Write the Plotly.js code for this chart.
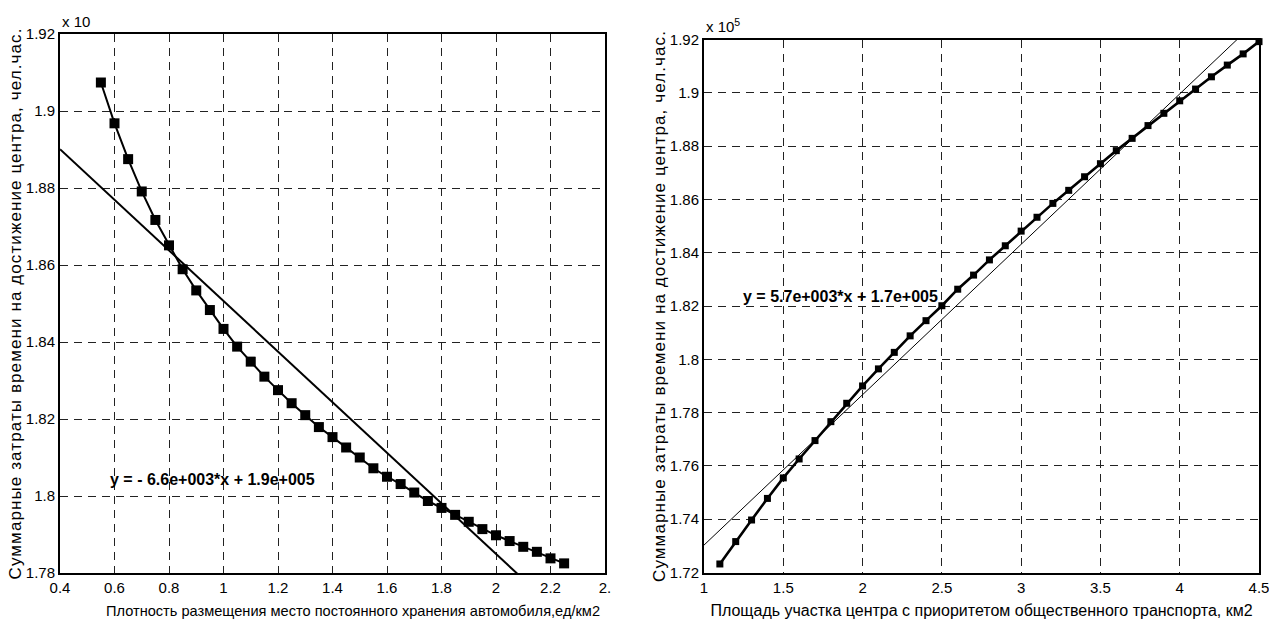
<!DOCTYPE html>
<html>
<head>
<meta charset="utf-8">
<script src="https://cdn.plot.ly/plotly-3.0.1.min.js"></script>
<style>
  html, body { margin: 0; padding: 0; background: #fff; }
  #chart { width: 1269px; height: 619px; }
  .g-ytitle text, .g-y2title text { letter-spacing: 1.1px; }
</style>
</head>
<body>
<div id="chart"></div>
<script>
// ---------- Data (values in units of 10^5 person-hours) ----------
const densityX = [0.55, 0.60, 0.65, 0.70, 0.75, 0.80, 0.85, 0.90, 0.95, 1.00,
                  1.05, 1.10, 1.15, 1.20, 1.25, 1.30, 1.35, 1.40, 1.45, 1.50,
                  1.55, 1.60, 1.65, 1.70, 1.75, 1.80, 1.85, 1.90, 1.95, 2.00,
                  2.05, 2.10, 2.15, 2.20, 2.25];
const densityY = [1.9074, 1.8968, 1.8875, 1.8791, 1.8717, 1.8651, 1.8589, 1.8534, 1.8483, 1.8434,
                  1.8388, 1.8349, 1.8310, 1.8275, 1.8241, 1.8210, 1.8179, 1.8153, 1.8126, 1.8100,
                  1.8072, 1.8050, 1.8031, 1.8009, 1.7987, 1.7969, 1.7951, 1.7933, 1.7914, 1.7898,
                  1.7883, 1.7868, 1.7855, 1.7838, 1.7825];

const areaX = [1.1, 1.2, 1.3, 1.4, 1.5, 1.6, 1.7, 1.8, 1.9, 2.0,
               2.1, 2.2, 2.3, 2.4, 2.5, 2.6, 2.7, 2.8, 2.9, 3.0,
               3.1, 3.2, 3.3, 3.4, 3.5, 3.6, 3.7, 3.8, 3.9, 4.0,
               4.1, 4.2, 4.3, 4.4, 4.5];
const areaY = [1.7232, 1.7316, 1.7397, 1.7478, 1.7555, 1.7626, 1.7695, 1.7766, 1.7835, 1.7900,
               1.7964, 1.8026, 1.8088, 1.8145, 1.8201, 1.8263, 1.8316, 1.8373, 1.8426, 1.8481,
               1.8533, 1.8585, 1.8634, 1.8685, 1.8734, 1.8783, 1.8829, 1.8877, 1.8923, 1.8970,
               1.9014, 1.9060, 1.9104, 1.9146, 1.9192];

// axis ticks
const leftXTicks = [0.4, 0.6, 0.8, 1.0, 1.2, 1.4, 1.6, 1.8, 2.0, 2.2, 2.4];
const leftXTickText = ['0.4', '0.6', '0.8', '1', '1.2', '1.4', '1.6', '1.8', '2', '2.2', '2.'];
const leftYTicks = [1.78, 1.80, 1.82, 1.84, 1.86, 1.88, 1.90, 1.92];
const leftYTickText = ['1.78', '1.8', '1.82', '1.84', '1.86', '1.88', '1.9', '1.92'];
const rightXTicks = [1, 1.5, 2, 2.5, 3, 3.5, 4, 4.5];
const rightXTickText = ['1', '1.5', '2', '2.5', '3', '3.5', '4', '4.5'];
const rightYTicks = [1.72, 1.74, 1.76, 1.78, 1.80, 1.82, 1.84, 1.86, 1.88, 1.90, 1.92];
const rightYTickText = ['1.72', '1.74', '1.76', '1.78', '1.8', '1.82', '1.84', '1.86', '1.88', '1.9', '1.92'];

const leftXRange = [0.4, 2.4], leftYRange = [1.78, 1.92];
const rightXRange = [1, 4.5], rightYRange = [1.72, 1.92];

const leftEquation = 'y = - 6.6e+003*x + 1.9e+005';
const rightEquation = 'y = 5.7e+003*x + 1.7e+005';
const leftXTitle = 'Плотность размещения место постоянного хранения автомобиля,ед/км2';
const rightXTitle = 'Площадь участка центра с приоритетом общественного транспорта, км2';
const yTitleText = 'Суммарные затраты времени на достижение центра, чел.час.';

// least-squares linear fit
function linfit(xs, ys) {
  const n = xs.length;
  let sx = 0, sy = 0, sxx = 0, sxy = 0;
  for (let i = 0; i < n; i++) { sx += xs[i]; sy += ys[i]; sxx += xs[i]*xs[i]; sxy += xs[i]*ys[i]; }
  const b = (n*sxy - sx*sy) / (n*sxx - sx*sx);
  const a = (sy - b*sx) / n;
  return {a, b};
}
const lf = linfit(densityX, densityY);
const rf = linfit(areaX, areaY);
const leftFitX = leftXRange.slice();
const leftFitY = leftFitX.map(x => lf.a + lf.b*x);
const rightFitX = rightXRange.slice();
const rightFitY = rightFitX.map(x => rf.a + rf.b*x);

const W = 1269, H = 619;
const FAM = 'Liberation Sans, Arial, sans-serif';
const tickFont = {family: FAM, size: 15, color: '#000'};
const titleFontXLeft = {family: FAM, size: 14.6, color: '#000'};
const titleFontXRight = {family: FAM, size: 16, color: '#000'};
const titleFontY = {family: FAM, size: 17, color: '#000'};
const eqFont = {family: FAM, size: 16, color: '#000', weight: 'bold'};

function axisBase() {
  return {
    showgrid: true, gridcolor: '#222', gridwidth: 1, griddash: '8px,6px',
    showline: true, mirror: true, linecolor: '#000', linewidth: 2,
    ticks: '', zeroline: false, tickfont: tickFont, tickmode: 'array', fixedrange: true,
    ticklabeloverflow: 'allow'
  };
}

const traces = [
  {x: densityX, y: densityY, xaxis: 'x', yaxis: 'y', mode: 'lines+markers',
   line: {color: '#000', width: 2}, marker: {symbol: 'square', size: 10, color: '#000'}, cliponaxis: false},
  {x: leftFitX, y: leftFitY, xaxis: 'x', yaxis: 'y', mode: 'lines',
   line: {color: '#000', width: 2}},
  {x: areaX, y: areaY, xaxis: 'x2', yaxis: 'y2', mode: 'lines+markers',
   line: {color: '#000', width: 2.6}, marker: {symbol: 'square', size: 7, color: '#000'}, cliponaxis: false},
  {x: rightFitX, y: rightFitY, xaxis: 'x2', yaxis: 'y2', mode: 'lines',
   line: {color: '#000', width: 1}}
];

const layout = {
  width: W, height: H, autosize: false,
  margin: {l: 0, r: 0, t: 0, b: 0},
  paper_bgcolor: '#fff', plot_bgcolor: '#fff',
  showlegend: false,
  xaxis: Object.assign(axisBase(), {
    domain: [60/W, 605/W], range: leftXRange, anchor: 'y',
    tickvals: leftXTicks, ticktext: leftXTickText
  }),
  yaxis: Object.assign(axisBase(), {
    domain: [1 - 573/H, 1 - 34/H], range: leftYRange, anchor: 'x',
    tickvals: leftYTicks, ticktext: leftYTickText,
    title: {text: yTitleText, font: titleFontY, standoff: 0}
  }),
  xaxis2: Object.assign(axisBase(), {
    domain: [704/W, 1259/W], range: rightXRange, anchor: 'y2',
    tickvals: rightXTicks, ticktext: rightXTickText,
    title: {text: rightXTitle, font: titleFontXRight, standoff: 12}
  }),
  yaxis2: Object.assign(axisBase(), {
    domain: [1 - 572.5/H, 1 - 39.5/H], range: rightYRange, anchor: 'x2',
    tickvals: rightYTicks, ticktext: rightYTickText,
    title: {text: yTitleText, font: titleFontY, standoff: 0}
  }),
  annotations: [
    {xref: 'paper', yref: 'paper', x: 353/W, y: 1 - 611/H, xanchor: 'center', yanchor: 'middle',
     text: leftXTitle, showarrow: false, font: titleFontXLeft},
    {xref: 'x', yref: 'y', x: 0.96, y: 1.8042, text: leftEquation, showarrow: false, font: eqFont},
    {xref: 'x2', yref: 'y2', x: 1.86, y: 1.8234, text: rightEquation, showarrow: false, font: eqFont},
    {xref: 'paper', yref: 'paper', x: 60/W, y: 1 - 21/H, xanchor: 'left', yanchor: 'middle',
     text: 'x 10', showarrow: false, font: tickFont},
    {xref: 'paper', yref: 'paper', x: 704/W, y: 1 - 25/H, xanchor: 'left', yanchor: 'middle',
     text: 'x 10<sup>5</sup>', showarrow: false, font: tickFont}
  ]
};

Plotly.newPlot('chart', traces, layout, {displayModeBar: false, staticPlot: true});
</script>
</body>
</html>
